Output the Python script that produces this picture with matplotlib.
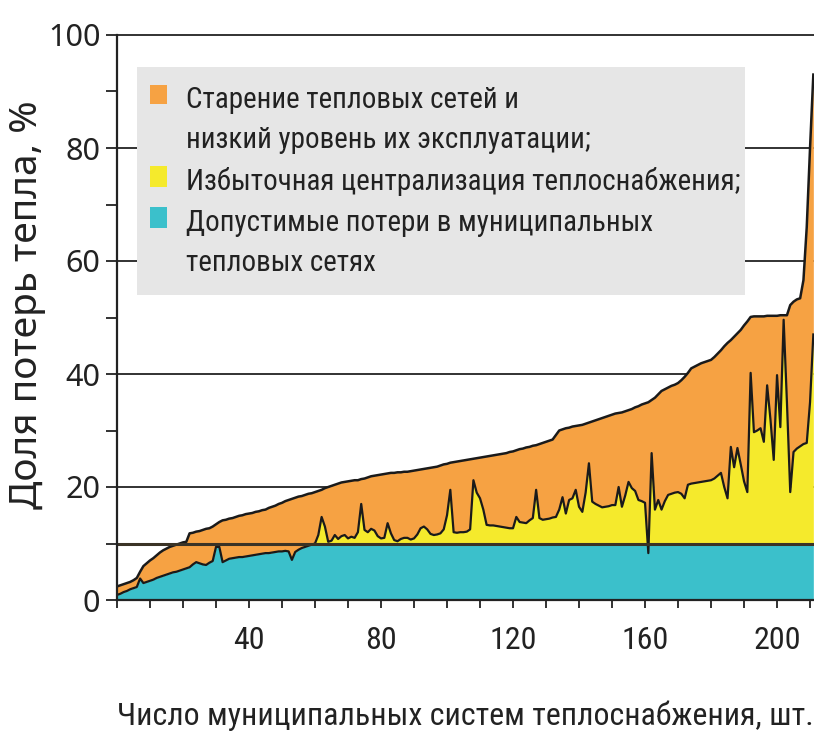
import matplotlib.pyplot as plt
from matplotlib import font_manager
from matplotlib.patches import Rectangle
import numpy as np

# допустимые потери (бирюзовый слой), %
allowed = [0.9, 1.1, 1.4, 1.6, 1.9, 2.1, 2.3, 3.8, 3.0, 3.2,
           3.4, 3.6, 3.9, 4.1, 4.3, 4.5, 4.7, 4.9, 5.0, 5.2,
           5.4, 5.6, 5.8, 6.3, 6.7, 6.5, 6.3, 6.2, 6.6, 6.9,
           9.4, 9.4, 6.7, 7.0, 7.3, 7.4, 7.5, 7.6, 7.6, 7.7,
           7.8, 7.9, 8.0, 8.1, 8.2, 8.3, 8.3, 8.4, 8.5, 8.6,
           8.6, 8.7, 8.6, 7.1, 8.5, 8.9, 9.2, 9.4, 9.6, 9.8] + [10.0] * 152

# верхняя граница слоя избыточной централизации, с 60-й системы
central_top = [10.0, 11.5, 14.7, 13.0, 10.3, 10.5, 11.5, 10.8, 11.3, 11.5,
               10.9, 11.2, 11.0, 12.0, 17.0, 12.4, 12.0, 12.6, 12.3, 11.3,
               10.9, 11.0, 13.6, 11.8, 10.6, 10.4, 10.8, 11.0, 11.0, 10.7,
               10.9, 11.6, 12.7, 13.0, 12.5, 11.7, 11.5, 11.6, 11.8, 12.5,
               15.0, 19.5, 12.0, 11.9, 12.0, 12.0, 12.1, 12.5, 21.2, 19.0,
               18.0, 16.0, 13.3, 13.2, 13.2, 13.1, 13.0, 12.9, 12.8, 12.7,
               12.7, 14.7, 13.8, 13.7, 13.6, 14.1, 14.5, 19.5, 14.5, 14.2,
               14.3, 14.4, 14.6, 14.7, 16.0, 18.2, 15.3, 17.7, 18.0, 19.5,
               16.5, 15.6, 19.0, 24.2, 17.4, 17.0, 16.7, 16.4, 16.5, 16.6,
               16.8, 16.8, 20.0, 16.5, 18.5, 20.9, 19.8, 19.3, 17.7, 17.5,
               17.2, 8.3, 26.0, 16.0, 17.7, 16.0, 17.5, 18.6, 18.8, 19.0,
               19.1, 18.8, 18.0, 20.4, 20.6, 20.7, 20.8, 20.9, 21.0, 21.1,
               21.2, 21.5, 22.0, 22.5, 20.0, 18.0, 27.1, 23.5, 26.9, 24.0,
               21.0, 19.1, 40.2, 29.7, 30.0, 30.4, 28.0, 38.0, 32.0, 24.8,
               39.8, 30.6, 49.6, 35.0, 19.1, 26.2, 26.8, 27.2, 27.6, 27.8,
               35.0, 47.0]

# общая доля потерь (верх оранжевого слоя), %
total = [2.4, 2.6, 2.8, 3.0, 3.2, 3.5, 3.9, 5.0, 6.0, 6.5,
         7.0, 7.4, 7.9, 8.4, 8.8, 9.1, 9.4, 9.6, 9.8, 10.0,
         10.2, 10.3, 11.8, 11.9, 12.1, 12.2, 12.4, 12.6, 12.7, 13.0,
         13.4, 13.8, 14.1, 14.2, 14.4, 14.5, 14.7, 14.9, 15.0, 15.2,
         15.3, 15.4, 15.6, 15.7, 15.9, 16.0, 16.3, 16.5, 16.7, 17.0,
         17.2, 17.5, 17.7, 17.9, 18.1, 18.3, 18.4, 18.6, 18.8, 18.9,
         19.1, 19.3, 19.5, 19.8, 20.0, 20.2, 20.4, 20.6, 20.8, 20.9,
         21.0, 21.1, 21.2, 21.2, 21.4, 21.5, 21.7, 21.9, 22.0, 22.1,
         22.2, 22.3, 22.4, 22.5, 22.5, 22.6, 22.6, 22.7, 22.7, 22.8,
         22.9, 23.0, 23.1, 23.2, 23.3, 23.4, 23.5, 23.6, 23.8, 24.0,
         24.1, 24.3, 24.4, 24.5, 24.6, 24.7, 24.8, 24.9, 25.0, 25.1,
         25.2, 25.3, 25.4, 25.5, 25.6, 25.7, 25.8, 25.9, 26.0, 26.2,
         26.3, 26.5, 26.7, 26.8, 27.0, 27.1, 27.3, 27.4, 27.6, 27.8,
         28.0, 28.2, 28.4, 29.2, 30.0, 30.2, 30.4, 30.5, 30.7, 30.8,
         30.9, 31.0, 31.2, 31.4, 31.6, 31.8, 32.0, 32.2, 32.4, 32.6,
         32.8, 33.0, 33.1, 33.2, 33.4, 33.6, 33.8, 34.1, 34.3, 34.6,
         34.8, 35.0, 35.4, 35.8, 36.4, 37.0, 37.3, 37.6, 37.9, 38.1,
         38.4, 38.9, 39.5, 40.2, 41.0, 41.3, 41.6, 41.9, 42.1, 42.3,
         42.5, 43.0, 43.6, 44.2, 44.9, 45.5, 46.0, 46.6, 47.2, 47.8,
         48.6, 49.3, 50.1, 50.2, 50.2, 50.2, 50.2, 50.3, 50.3, 50.3,
         50.3, 50.4, 50.4, 50.4, 52.2, 52.8, 53.2, 53.4, 56.6, 66.0,
         80.0, 93.0]

legend_lines = ['Старение тепловых сетей и',
                'низкий уровень их эксплуатации;',
                'Избыточная централизация теплоснабжения;',
                'Допустимые потери в муниципальных',
                'тепловых сетях']
colors = ['#f6a243', '#f5ea2c', '#3bc0cb']
x_labels = {40: '40', 80: '80', 120: '120', 160: '160', 200: '200'}

ink = '#222222'


def narrow_font():
    """Узкая гарнитура с кириллицей, если такая есть в системе."""
    fonts = font_manager.fontManager.ttflist
    names = {f.name for f in fonts}
    for name in ['Roboto Condensed', 'Liberation Sans Narrow',
                 'Open Sans Condensed', 'Noto Sans Condensed']:
        if name in names:
            return {'family': [name, 'DejaVu Sans']}
    for name in ['Noto Sans', 'Open Sans', 'Roboto', 'DejaVu Sans']:
        for f in fonts:
            if f.name == name and f.style == 'normal' and \
                    f.stretch in ('condensed', 'semi-condensed'):
                return {'family': [name, 'DejaVu Sans'], 'fontstretch': f.stretch}
    return {'family': ['DejaVu Sans']}


narrow = narrow_font()
regular = {'family': ['Noto Sans', 'DejaVu Sans']}

n = np.arange(len(total))
allowed = np.array(allowed)
line = np.concatenate([allowed[:60], central_top])
total = np.array(total)
yellow_top = np.maximum(line, allowed)

fig = plt.figure(figsize=(8.14, 7.31), dpi=100)
ax = fig.add_axes([117 / 814, 131 / 731, 697 / 814, 565 / 731])
renderer = fig.canvas.get_renderer()


def fit_width(text, width_px):
    # подгоняем кегль под нужную ширину строки
    w = text.get_window_extent(renderer).width
    text.set_fontsize(text.get_fontsize() * width_px / w)
    return text.get_fontsize()


ax.fill_between(n, 0, allowed, color=colors[2], lw=0, zorder=2)
ax.fill_between(n, allowed, yellow_top, color=colors[1], lw=0, zorder=2)
ax.fill_between(n, yellow_top, total, color=colors[0], lw=0, zorder=2)
ax.plot(n, line, color='#1a1a1a', lw=1.6, zorder=3)
ax.plot(n, total, color='#1a1a1a', lw=1.8, zorder=3)

# горизонтальные линии сетки
for v in [20, 40, 60, 80, 100]:
    ax.axhline(v, color=ink, lw=1.3, zorder=1, clip_on=False)
ax.axhline(10, color='#3a3326', lw=2.2, zorder=4)

ax.set_xlim(0, 211.2)
ax.set_ylim(0, 100)
for s in ['top', 'right']:
    ax.spines[s].set_visible(False)
for s in ['left', 'bottom']:
    ax.spines[s].set_linewidth(1.6)
    ax.spines[s].set_color(ink)
    ax.spines[s].set_zorder(5)

ax.set_xticks(range(0, 211, 10))
ax.set_xticklabels([x_labels.get(t, '') for t in range(0, 211, 10)],
                   fontsize=23, color=ink, **narrow)
ax.set_yticks(range(0, 101, 10))
ax.set_yticklabels([str(t) if t % 20 == 0 else '' for t in range(0, 101, 10)],
                   fontsize=22, color=ink, **regular)
ax.tick_params(axis='x', direction='out', length=6, width=1.3, color=ink, pad=13)
ax.tick_params(axis='y', direction='out', length=8, width=1.3, color=ink, pad=4)

ylab = fig.text(27 / 814, 1 - 305 / 731, 'Доля потерь тепла, %', rotation=90,
                fontsize=20, color=ink, ha='center', va='center', **regular)
h = ylab.get_window_extent(renderer).height
ylab.set_fontsize(20 * 410 / h)

xlab = fig.text(465 / 814, 1 - 716 / 731,
                'Число муниципальных систем теплоснабжения, шт.',
                fontsize=20, color=ink, ha='center', va='center', **narrow)
fit_width(xlab, 692)

# легенда на сером фоне
ax.add_patch(Rectangle((0.029, 0.540), 0.872, 0.403, transform=ax.transAxes,
                       facecolor='#e6e6e6', edgecolor='none', zorder=6))
for (y0, y1), color in zip([(85, 104), (166, 187), (207, 228)], colors):
    ax.add_patch(Rectangle((33 / 697, (600 - y1) / 565), 17 / 697, (y1 - y0) / 565,
                           transform=ax.transAxes, facecolor=color,
                           edgecolor='none', zorder=7))

line_y = [97, 137, 178, 220, 260]
texts = [ax.text(69 / 697, (600 - y) / 565, s, transform=ax.transAxes,
                 fontsize=20, color=ink, va='center_baseline', ha='left',
                 zorder=7, **narrow)
         for s, y in zip(legend_lines, line_y)]
size = fit_width(texts[2], 552)
for t in texts:
    t.set_fontsize(size)

fig.savefig('out.png', dpi=100)
